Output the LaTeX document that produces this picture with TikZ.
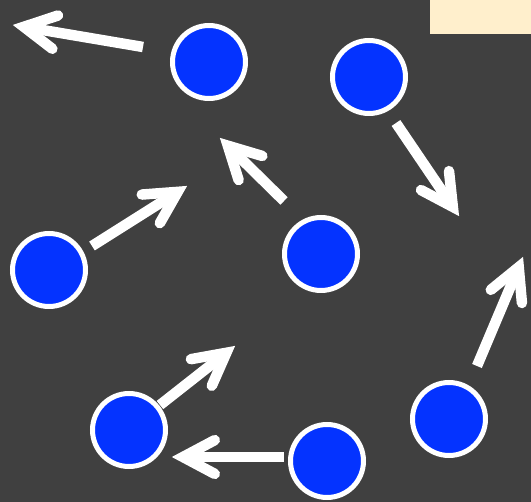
\documentclass[tikz,border=0pt]{standalone}
\usetikzlibrary{calc}
\definecolor{bg}{HTML}{404040}
\definecolor{ballblue}{HTML}{0433FF}
\definecolor{beige}{HTML}{FFEFCC}
\tikzset{
  ball/.style={circle, fill=ballblue, draw=white, line width=5pt, minimum size=73pt, inner sep=0pt},
  shaft/.style={draw=white, line width=10.5pt, line cap=butt},
  head/.style={draw=white, line width=10.5pt, line cap=round, line join=miter, miter limit=10},
}
\newcommand{\myarrow}[2]{%
  \coordinate (v) at ($(#2)!11pt!(#1)$);
  \draw[shaft] (#1) -- (v);
  \draw[head] ($(v)!36pt!28:(#1)$) -- (v) -- ($(v)!36pt!-28:(#1)$);
}
\begin{document}
\begin{tikzpicture}[x=1pt,y=-1pt]
\fill[bg] (0,0) rectangle (531,502);
\useasboundingbox (0,0) rectangle (531,502);
\fill[beige] (430,0) rectangle (531,34);
\node[ball] (c1) at (209,62) {};
\node[ball] (c2) at (369,77) {};
\node[ball] (c3) at (49,270) {};
\node[ball] (c4) at (321,254) {};
\node[ball] (c5) at (449,419) {};
\node[ball] (c6) at (129,430) {};
\node[ball] (c7) at (327,461) {};
\coordinate (sA) at (143,47);  \coordinate (tA) at (13,25);
\coordinate (sB) at (92,246);  \coordinate (tB) at (187,186);
\coordinate (sC) at (284,201); \coordinate (tC) at (220,138);
\coordinate (sD) at (396,123); \coordinate (tD) at (459,216);
\coordinate (sE) at (477,366); \coordinate (tE) at (523,257);
\coordinate (sF) at (160,405); \coordinate (tF) at (235,346);
\coordinate (sG) at (284,457); \coordinate (tG) at (172,457);
\myarrow{sA}{tA}
\myarrow{sB}{tB}
\myarrow{sC}{tC}
\myarrow{sD}{tD}
\myarrow{sE}{tE}
\myarrow{sF}{tF}
\myarrow{sG}{tG}
\end{tikzpicture}
\end{document}
